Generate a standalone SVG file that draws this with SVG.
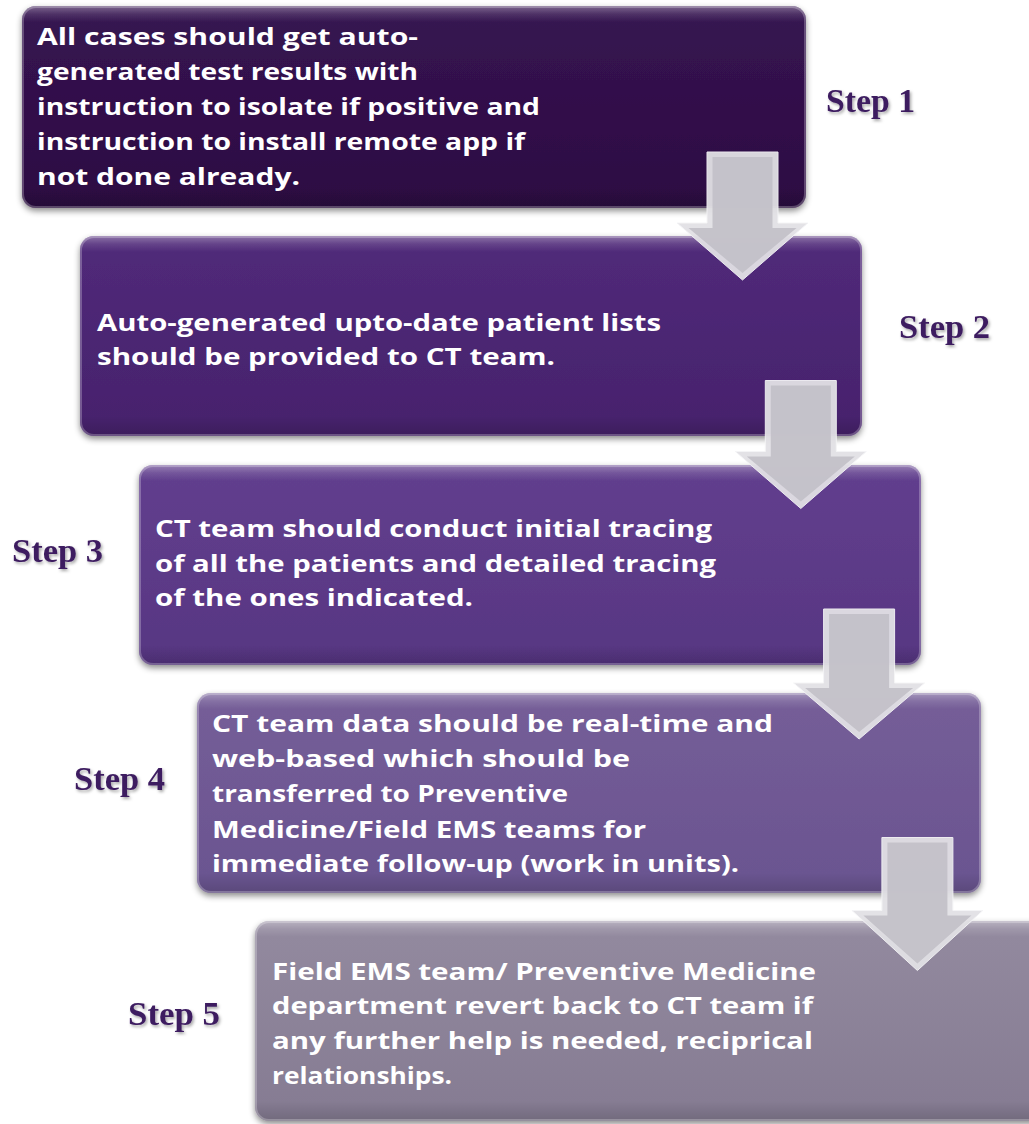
<svg xmlns="http://www.w3.org/2000/svg" width="1029" height="1124" viewBox="0 0 1029 1124">
<defs>
<filter id="sh" x="-5%" y="-10%" width="110%" height="125%">
<feDropShadow dx="0" dy="3" stdDeviation="3" flood-color="#000" flood-opacity="0.45"/>
</filter>
<filter id="tsh" x="-10%" y="-20%" width="130%" height="160%">
<feDropShadow dx="1.5" dy="2" stdDeviation="1.5" flood-color="#000" flood-opacity="0.35"/>
</filter>
<linearGradient id="gloss" x1="0" y1="0" x2="0" y2="1">
<stop offset="0" stop-color="#fff" stop-opacity="0.35"/>
<stop offset="0.04" stop-color="#fff" stop-opacity="0.12"/>
<stop offset="0.08" stop-color="#fff" stop-opacity="0"/>
<stop offset="0.9" stop-color="#000" stop-opacity="0"/>
<stop offset="1" stop-color="#000" stop-opacity="0.15"/>
</linearGradient>
<linearGradient id="g1" x1="0" y1="0" x2="0" y2="1"><stop offset="0" stop-color="#371452"/><stop offset="1" stop-color="#2c0c42"/></linearGradient>
<linearGradient id="g2" x1="0" y1="0" x2="0" y2="1"><stop offset="0" stop-color="#512a7a"/><stop offset="1" stop-color="#46226c"/></linearGradient>
<linearGradient id="g3" x1="0" y1="0" x2="0" y2="1"><stop offset="0" stop-color="#623f8e"/><stop offset="1" stop-color="#573682"/></linearGradient>
<linearGradient id="g4" x1="0" y1="0" x2="0" y2="1"><stop offset="0" stop-color="#755e98"/><stop offset="1" stop-color="#6a5490"/></linearGradient>
<linearGradient id="g5" x1="0" y1="0" x2="0" y2="1"><stop offset="0" stop-color="#938a9f"/><stop offset="1" stop-color="#857b92"/></linearGradient>
</defs>
<style>
.box{filter:url(#sh);}
.edge{fill:none;stroke:#ffffff;stroke-opacity:0.25;stroke-width:2;}
.t{font-family:"Open Sans","DejaVu Sans",sans-serif;font-weight:bold;font-size:24px;fill:#ffffff;}
.step{font-family:"Liberation Serif","Times New Roman",serif;font-weight:bold;font-size:34px;fill:#3d1c60;filter:url(#tsh);}
.ao{fill:#e2e1e5;stroke:#f4f4f6;stroke-width:1;opacity:0.95;}
.ai{fill:#c3c1c8;opacity:0.95;}
</style>

<g id="node1">
<rect class="box" x="22" y="6" width="784" height="202" rx="14" fill="url(#g1)"/>
<rect x="22" y="6" width="784" height="202" rx="14" fill="url(#gloss)"/>
<rect class="edge" x="23" y="7" width="782" height="200" rx="13"/>
<text class="t" x="37" y="45" textLength="381" lengthAdjust="spacingAndGlyphs">All cases should get auto-</text>
<text class="t" x="37" y="80" textLength="381" lengthAdjust="spacingAndGlyphs">generated test results with</text>
<text class="t" x="37" y="115" textLength="503" lengthAdjust="spacingAndGlyphs">instruction to isolate if positive and</text>
<text class="t" x="37" y="150" textLength="488" lengthAdjust="spacingAndGlyphs">instruction to install remote app if</text>
<text class="t" x="37" y="185" textLength="263" lengthAdjust="spacingAndGlyphs">not done already.</text>
</g>
<g id="node2">
<rect class="box" x="80" y="236" width="782" height="200" rx="14" fill="url(#g2)"/>
<rect x="80" y="236" width="782" height="200" rx="14" fill="url(#gloss)"/>
<rect class="edge" x="81" y="237" width="780" height="198" rx="13"/>
<text class="t" x="97" y="331" textLength="564" lengthAdjust="spacingAndGlyphs">Auto-generated upto-date patient lists</text>
<text class="t" x="97" y="365" textLength="458" lengthAdjust="spacingAndGlyphs">should be provided to CT team.</text>
</g>
<g id="node3">
<rect class="box" x="139" y="465" width="782" height="200" rx="14" fill="url(#g3)"/>
<rect x="139" y="465" width="782" height="200" rx="14" fill="url(#gloss)"/>
<rect class="edge" x="140" y="466" width="780" height="198" rx="13"/>
<text class="t" x="155" y="537" textLength="557" lengthAdjust="spacingAndGlyphs">CT team should conduct initial tracing</text>
<text class="t" x="155" y="572" textLength="561" lengthAdjust="spacingAndGlyphs">of all the patients and detailed tracing</text>
<text class="t" x="155" y="606" textLength="318" lengthAdjust="spacingAndGlyphs">of the ones indicated.</text>
</g>
<g id="node4">
<rect class="box" x="197" y="693" width="784" height="200" rx="14" fill="url(#g4)"/>
<rect x="197" y="693" width="784" height="200" rx="14" fill="url(#gloss)"/>
<rect class="edge" x="198" y="694" width="782" height="198" rx="13"/>
<text class="t" x="212" y="732" textLength="561" lengthAdjust="spacingAndGlyphs">CT team data should be real-time and</text>
<text class="t" x="212" y="767" textLength="418" lengthAdjust="spacingAndGlyphs">web-based which should be</text>
<text class="t" x="212" y="802" textLength="356" lengthAdjust="spacingAndGlyphs">transferred to Preventive</text>
<text class="t" x="212" y="838" textLength="434" lengthAdjust="spacingAndGlyphs">Medicine/Field EMS teams for</text>
<text class="t" x="212" y="872" textLength="527" lengthAdjust="spacingAndGlyphs">immediate follow-up (work in units).</text>
</g>
<g id="node5">
<rect class="box" x="255" y="921" width="790" height="200" rx="14" fill="url(#g5)"/>
<rect x="255" y="921" width="790" height="200" rx="14" fill="url(#gloss)"/>
<rect class="edge" x="256" y="922" width="788" height="198" rx="13"/>
<text class="t" x="272" y="980" textLength="544" lengthAdjust="spacingAndGlyphs">Field EMS team/ Preventive Medicine</text>
<text class="t" x="272" y="1014" textLength="541" lengthAdjust="spacingAndGlyphs">department revert back to CT team if</text>
<text class="t" x="272" y="1049" textLength="541" lengthAdjust="spacingAndGlyphs">any further help is needed, reciprical</text>
<text class="t" x="272" y="1084" textLength="180" lengthAdjust="spacingAndGlyphs">relationships.</text>
</g>

<g id="labels">
<text class="step" x="826" y="112" textLength="89" lengthAdjust="spacingAndGlyphs">Step 1</text>
<text class="step" x="899" y="338" textLength="91" lengthAdjust="spacingAndGlyphs">Step 2</text>
<text class="step" x="12" y="562" textLength="91" lengthAdjust="spacingAndGlyphs">Step 3</text>
<text class="step" x="74" y="790" textLength="91" lengthAdjust="spacingAndGlyphs">Step 4</text>
<text class="step" x="128" y="1025" textLength="92" lengthAdjust="spacingAndGlyphs">Step 5</text>
</g>

<g id="connectors">
<g transform="translate(742.5,152)">
<polygon class="ao" points="-35.5,0 35.5,0 35.5,71 65.5,71 0,128 -65.5,71 -35.5,71"/>
<polygon class="ai" points="-30,5 30,5 30,76 54,76 0,121 -54,76 -30,76"/>
</g>
<g transform="translate(800.8,380.5)">
<polygon class="ao" points="-35.5,0 35.5,0 35.5,71 65.5,71 0,128 -65.5,71 -35.5,71"/>
<polygon class="ai" points="-30,5 30,5 30,76 54,76 0,121 -54,76 -30,76"/>
</g>
<g transform="translate(859.1,609)">
<polygon class="ao" points="-35.5,0 35.5,0 35.5,74 65.5,74 0,130 -65.5,74 -35.5,74"/>
<polygon class="ai" points="-30,5 30,5 30,79 54,79 0,123 -54,79 -30,79"/>
</g>
<g transform="translate(917.4,837.5)">
<polygon class="ao" points="-35.5,0 35.5,0 35.5,73 65.5,73 0,133 -65.5,73 -35.5,73"/>
<polygon class="ai" points="-30,5 30,5 30,78 54,78 0,126 -54,78 -30,78"/>
</g>
</g>
</svg>
